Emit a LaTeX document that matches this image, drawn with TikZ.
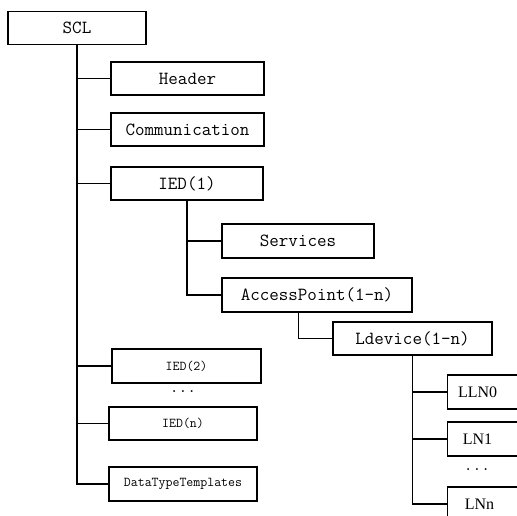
\documentclass[tikz,border=0pt]{standalone}
\usepackage{fontspec}
\usepackage{tikz}
\usetikzlibrary{calc}
\newfontfamily\lnfont{Liberation Serif}

\tikzset{
  box/.style={draw, line width=1.1pt, inner sep=0pt, minimum height=33pt,
    font=\ttfamily\fontsize{18.5}{20}\selectfont},
  smallbox/.style={box, font=\ttfamily\fontsize{13.5}{15}\selectfont},
  lnbox/.style={box, anchor=west, minimum width=95pt, minimum height=34pt,
    font=\lnfont\fontsize{16}{18}\selectfont},
  dotmark/.style={font=\ttfamily\fontsize{17}{18}\selectfont},
  link/.style={line width=1.1pt},
}
\newcommand{\lnlabel}[1]{\makebox[60pt]{#1}\hspace*{35pt}}

\begin{document}
\begin{tikzpicture}[x=1pt,y=-1pt]
\clip (0,0) rectangle (517,515);
\fill[white] (0,0) rectangle (517,515);

\node[box, minimum width=138pt] (scl) at (77,28) {SCL};
\node[box, minimum width=153pt] (hdr) at (187.5,78.5) {Header};
\node[box, minimum width=153pt] (comm) at (187.5,129.5) {Communication};
\node[box, minimum width=152pt] (ied1) at (187,183.5) {IED(1)};
\node[box, minimum width=152pt, minimum height=34pt] (serv) at (298,241) {Services};
\node[box, minimum width=190pt, minimum height=34pt] (ap) at (317,295) {AccessPoint(1-n)};
\node[box, minimum width=159pt] (ldev) at (412.5,338.5) {Ldevice(1-n)};

\node[lnbox] (lln0) at (447,392) {\lnlabel{LLN0}};
\node[lnbox] (ln1) at (447,439) {\lnlabel{LN1}};
\node[dotmark] (dotsb) at (477,470) {...};
\node[lnbox] (lnn) at (447,504) {\lnlabel{\hspace*{4pt}LNn}};

\node[smallbox, minimum width=149pt, minimum height=34pt] (ied2) at (186.5,366) {IED(2)};
\node[dotmark] (dotsa) at (183,392) {...};
\node[smallbox, minimum width=148pt] (iedn) at (183,423.5) {IED(n)};
\node[smallbox, minimum width=148pt, minimum height=34pt] (dtt) at (183,484) {DataTypeTemplates};

% SCL children
\draw[link] (scl.south) |- (hdr.west);
\draw[link] (scl.south) |- (comm.west);
\draw[link] (scl.south) |- (ied1.west);
\draw[link] (scl.south) |- (ied2.west);
\draw[link] (scl.south) |- (iedn.west);
\draw[link] (scl.south) |- (dtt.west);

% IED(1) children
\draw[link] (ied1.south) |- (serv.west);
\draw[link] (ied1.south) |- (ap.west);

\coordinate (apfoot) at ($(ap.south west)+(77,0)$);
\draw[link] (apfoot) |- (ldev.west);

% Ldevice children
\draw[link] (ldev.south) |- (lln0.west);
\draw[link] (ldev.south) |- (ln1.west);
\draw[link] (ldev.south) |- (lnn.west);
\end{tikzpicture}
\end{document}
